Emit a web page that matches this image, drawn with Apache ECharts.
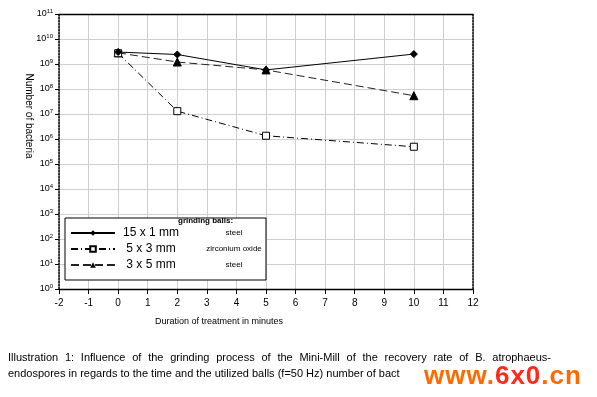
<!DOCTYPE html>
<html>
<head>
<meta charset="utf-8">
<script src="https://cdn.jsdelivr.net/npm/echarts@6/dist/echarts.min.js"></script>
<style>
  html, body { margin: 0; padding: 0; background: #fff; }
  #wrap { position: relative; width: 597px; height: 397px; overflow: hidden; }
  #chart { position: absolute; left: 0; top: 0; width: 597px; height: 397px; }
  #caption { position: absolute; left: 8px; top: 349px; width: 543px; font-family: 'Liberation Sans', Arial, sans-serif; font-size: 11px; line-height: 16px; color: #000; }
  #caption .l1 { display: block; text-align: justify; text-align-last: justify; white-space: nowrap; }
  #wm { position: absolute; left: 424px; top: 360px; font-family: 'Liberation Sans', Arial, sans-serif; font-weight: bold; font-size: 26px; letter-spacing: 1px; color: #ff6a00; white-space: nowrap; }
  #wm .r { color: #ff2a1a; }
</style>
</head>
<body>
<div id="wrap">
  <div id="chart"></div>
  <div id="caption"><span class="l1">Illustration 1: Influence of the grinding process of the Mini-Mill of the recovery rate of B. atrophaeus-</span><span>endospores in regards to the time and the utilized balls (f=50 Hz) number of bact</span></div>
  <div id="wm">www.<span class="r">6x0</span>.cn</div>
</div>
<script>
// ---- data ----
const times = [0, 2, 5, 10];
const seriesNames = ['15 x 1 mm', '5 x 3 mm', '3 x 5 mm'];
const materials = ['steel', 'zirconium oxide', 'steel'];
const steel15x1 = [3.0e9, 2.4e9, 5.8e8, 2.5e9];
const zirc5x3 = [2.7e9, 1.3e7, 1.35e6, 4.9e5];
const steel3x5 = [2.8e9, 1.2e9, 5.8e8, 5.4e7];
const xTicks = [-2, -1, 0, 1, 2, 3, 4, 5, 6, 7, 8, 9, 10, 11, 12];
const yExponents = [0, 1, 2, 3, 4, 5, 6, 7, 8, 9, 10, 11];

const FONT = "'Liberation Sans Narrow', 'Liberation Sans', Arial, sans-serif";
const pairs = vals => times.map((t, i) => [t, vals[i]]);
const matOf = {};
seriesNames.forEach((n, i) => { matOf[n] = materials[i]; });

const chart = echarts.init(document.getElementById('chart'), null, { renderer: 'canvas' });
const gridLeft = 59, gridTop = 14, gridRight = 124, gridBottom = 108;

const option = {
  animation: false,
  backgroundColor: '#fff',
  textStyle: { fontFamily: FONT },
  grid: { left: gridLeft, top: gridTop, right: gridRight, bottom: gridBottom, containLabel: false },
  xAxis: [{
    type: 'value', min: xTicks[0], max: xTicks[xTicks.length - 1], interval: 1,
    axisLine: { onZero: false, lineStyle: { color: '#000', width: 1.3 } },
    axisTick: { show: true, length: 5, lineStyle: { color: '#000' } },
    axisLabel: { color: '#000', fontSize: 10, margin: 9, fontFamily: FONT },
    splitLine: { show: true, lineStyle: { color: '#cfcfcf', width: 1 } }
  }, {
    type: 'value', position: 'top', min: xTicks[0], max: xTicks[xTicks.length - 1], interval: 1,
    axisLine: { show: true, onZero: false, lineStyle: { color: '#000', width: 1.3 } },
    axisTick: { show: false }, axisLabel: { show: false }, splitLine: { show: false }
  }],
  yAxis: [{
    type: 'log', logBase: 10, interval: 1,
    min: Math.pow(10, yExponents[0]), max: Math.pow(10, yExponents[yExponents.length - 1]),
    axisLine: { show: true, onZero: false, lineStyle: { color: '#000', type: 'dotted', width: 1.5 } },
    axisTick: { show: true, length: 4, lineStyle: { color: '#000' } },
    minorTick: { show: false },
    axisLabel: {
      color: '#000', margin: 6, fontFamily: FONT,
      formatter: v => '{b|10}{s|' + Math.round(Math.log10(v)) + '}',
      rich: {
        b: { fontSize: 9, fontFamily: FONT, color: '#000' },
        s: { fontSize: 6, fontFamily: FONT, color: '#000', verticalAlign: 'top', padding: [0, 0, 6, 0] }
      }
    },
    splitLine: { show: true, lineStyle: { color: '#cfcfcf', width: 1 } }
  }, {
    type: 'log', logBase: 10, position: 'right', interval: 1,
    min: Math.pow(10, yExponents[0]), max: Math.pow(10, yExponents[yExponents.length - 1]),
    axisLine: { show: true, onZero: false, lineStyle: { color: '#000', type: 'dotted', width: 1.5 } },
    axisTick: { show: false }, axisLabel: { show: false }, splitLine: { show: false }
  }],
  legend: {
    orient: 'vertical', left: 65, top: 218,
    padding: [9, 2, 9, 5], itemGap: 4, itemWidth: 44, itemHeight: 7,
    backgroundColor: '#fff', borderColor: '#000', borderWidth: 1,
    data: seriesNames,
    formatter: name => '{n|' + name + '}{sp|}{m|' + matOf[name] + '}',
    textStyle: {
      fontFamily: FONT, color: '#000',
      rich: {
        n: { fontSize: 12, width: 62, align: 'center', lineHeight: 12, fontFamily: FONT },
        sp: { width: 22 },
        m: { fontSize: 8, lineHeight: 12, fontFamily: FONT, width: 60 }
      }
    }
  },
  graphic: [
    { type: 'text', left: 178, top: 217, z: 100, style: { text: 'grinding balls:', fontSize: 8, fontWeight: 'bold', fontFamily: FONT, fill: '#000' } },
    { type: 'text', x: 29, y: 116, rotation: -Math.PI / 2, z: 100, style: { text: 'Number of bacteria', fontSize: 10, fontFamily: FONT, fill: '#000', align: 'center', verticalAlign: 'middle' } },
    { type: 'text', left: 155, top: 317, z: 100, style: { text: 'Duration of treatment in minutes', fontSize: 9, fontFamily: FONT, fill: '#000' } }
  ],
  series: [{
    name: seriesNames[0], type: 'line', data: pairs(steel15x1),
    symbol: 'diamond', symbolSize: 7,
    lineStyle: { color: '#000', width: 1, type: 'solid' },
    itemStyle: { color: '#000', borderColor: '#000' }, z: 5
  }, {
    name: seriesNames[1], type: 'line', data: pairs(zirc5x3),
    symbol: 'rect', symbolSize: 7,
    lineStyle: { color: '#000', width: 1, type: [7, 3, 1, 3] },
    itemStyle: { color: '#fff', borderColor: '#000', borderWidth: 1 }, z: 4
  }, {
    name: seriesNames[2], type: 'line', data: pairs(steel3x5),
    symbol: 'triangle', symbolSize: 8,
    lineStyle: { color: '#222', width: 1, type: [8, 4] },
    itemStyle: { color: '#000', borderColor: '#000' }, z: 3
  }]
};
chart.setOption(option);
</script>
</body>
</html>
